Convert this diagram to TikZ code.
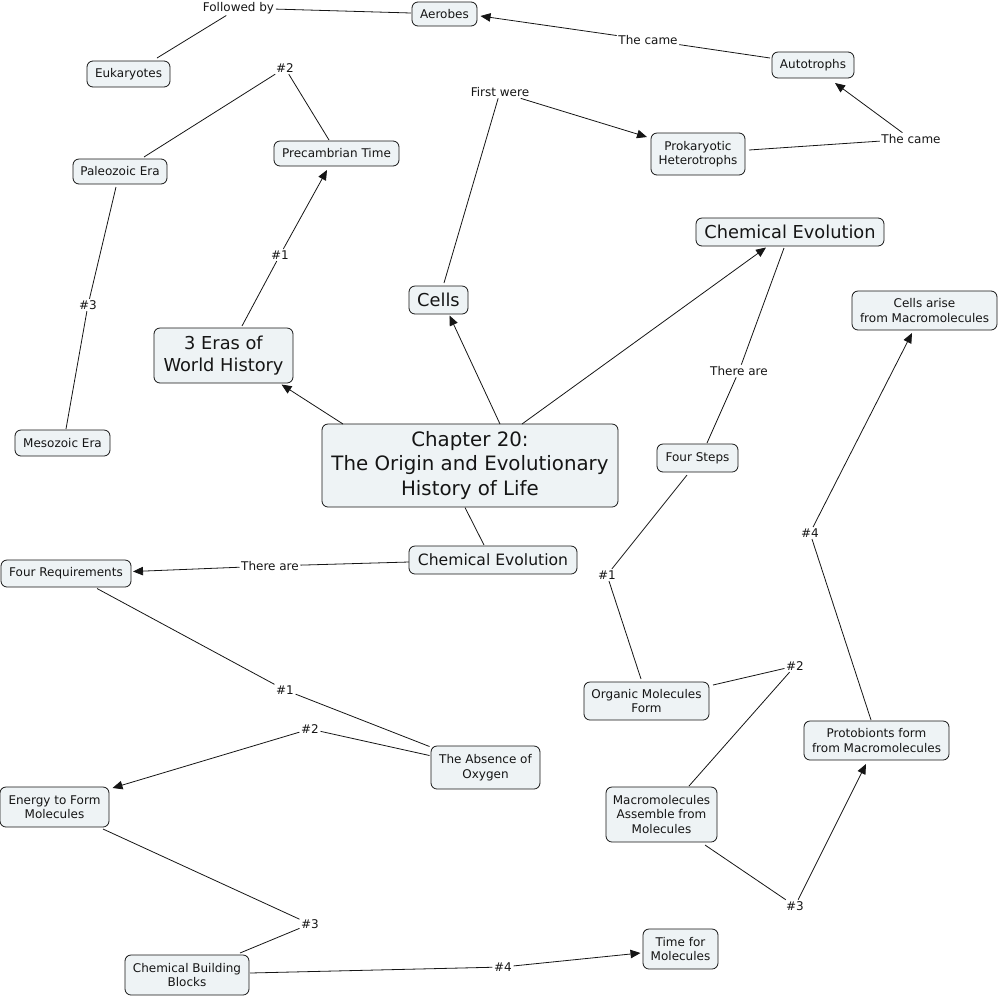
\documentclass[tikz,border=0pt]{standalone}
\usepackage{fontspec}
\setmainfont{DejaVu Sans}
\usetikzlibrary{arrows.meta}
\definecolor{boxfill}{HTML}{EEF3F5}
\definecolor{ink}{HTML}{151515}
\newcommand\fsm{\fontsize{12}{14.5}\selectfont}
\newcommand\fmid{\fontsize{15.6}{19}\selectfont}
\newcommand\flg{\fontsize{17.8}{22}\selectfont}
\newcommand\fxl{\fontsize{19.8}{24.5}\selectfont}
\begin{document}
\begin{tikzpicture}[x=1pt,y=-1pt,
  cn/.style={draw=ink, fill=boxfill, rounded corners=6pt, line width=0.8pt,
    inner sep=0pt, align=center, text=ink, font=\fsm},
  lbl/.style={inner sep=1.5pt, text=ink, font=\fsm},
  con/.style={draw=ink, line width=0.8pt},
  arr/.style={con, -{Triangle[length=10pt,width=8.5pt]}}]
\useasboundingbox (0,0) rectangle (999,997);
% concept nodes
\node[cn, minimum width=65, minimum height=24] (aer) at (444.5,14) {Aerobes};
\node[cn, minimum width=83, minimum height=26] (euk) at (128.5,74) {Eukaryotes};
\node[cn, minimum width=94, minimum height=25] (pal) at (120,171.5) {Paleozoic Era};
\node[cn, minimum width=125, minimum height=25] (pre) at (336.5,153.5) {Precambrian Time};
\node[cn, minimum width=82, minimum height=26] (aut) at (813,65) {Autotrophs};
\node[cn, minimum width=94, minimum height=42] (pro) at (698,154) {Prokaryotic\\Heterotrophs};
\node[cn, minimum width=188, minimum height=28, font=\flg] (ceT) at (790,232) {Chemical Evolution};
\node[cn, minimum width=145, minimum height=39] (car) at (924.5,310.5) {Cells arise\\from Macromolecules};
\node[cn, minimum width=139, minimum height=55, font=\flg] (era) at (223.5,355.5) {3 Eras of\\World History};
\node[cn, minimum width=59, minimum height=28, font=\flg] (cel) at (438.5,300) {Cells};
\node[cn, minimum width=95, minimum height=26] (mes) at (62.5,443) {Mesozoic Era};
\node[cn, minimum width=296, minimum height=83, font=\fxl] (chp) at (470,465.5) {Chapter 20:\\The Origin and Evolutionary\\History of Life};
\node[cn, minimum width=81, minimum height=28] (fst) at (697.5,458) {Four Steps};
\node[cn, minimum width=168, minimum height=28, font=\fmid] (ceB) at (493,560) {Chemical Evolution};
\node[cn, minimum width=130, minimum height=27] (frq) at (66,573.5) {Four Requirements};
\node[cn, minimum width=125, minimum height=38] (org) at (646.5,701) {Organic Molecules\\Form};
\node[cn, minimum width=145, minimum height=39] (prt) at (876.5,740.5) {Protobionts form\\from Macromolecules};
\node[cn, minimum width=109, minimum height=43] (abs) at (485.5,767.5) {The Absence of\\Oxygen};
\node[cn, minimum width=109, minimum height=40] (ene) at (54.5,807) {Energy to Form\\Molecules};
\node[cn, minimum width=111, minimum height=55] (mac) at (661.5,814.5) {Macromolecules\\Assemble from\\Molecules};
\node[cn, minimum width=124, minimum height=40] (cbb) at (187,975) {Chemical Building\\Blocks};
\node[cn, minimum width=75, minimum height=40] (tim) at (680.5,949) {Time for\\Molecules};
% linking phrases
\node[lbl] (lfol) at (238.5,8) {Followed by};
\node[lbl] (lcame1) at (648,40) {The came};
\node[lbl] (lcame2) at (911,139) {The came};
\node[lbl] (lfirst) at (500,92) {First were};
\node[lbl] (le2) at (285,68) {\#2};
\node[lbl] (le1) at (280,255) {\#1};
\node[lbl] (le3) at (88,305) {\#3};
\node[lbl] (lthere1) at (739,371) {There are};
\node[lbl] (ls1) at (607,575) {\#1};
\node[lbl] (ls4) at (810,533) {\#4};
\node[lbl] (ls2) at (795,666) {\#2};
\node[lbl] (ls3) at (795,906) {\#3};
\node[lbl] (lthere2) at (270,566) {There are};
\node[lbl] (lr1) at (285,690) {\#1};
\node[lbl] (lr2) at (310,729) {\#2};
\node[lbl] (lr3) at (310,924) {\#3};
\node[lbl] (lr4) at (503,967) {\#4};
% connectors from the central node
\draw[arr] ([shift={(-127,-41.5)}]chp.center) -- ([shift={(58,29)}]era.center);
\draw[arr] ([shift={(30,-41.5)}]chp.center) -- ([shift={(11,15.5)}]cel.center);
\draw[arr] ([shift={(52,-41.5)}]chp.center) -- ([shift={(-24,15.5)}]ceT.center);
\draw[con] ([shift={(-5,42)}]chp.center) -- ([shift={(-9,-15)}]ceB.center);
% four requirements branch
\draw[con] ([shift={(-84,2)}]ceB.center) -- (lthere2);
\draw[arr] (lthere2) -- ([shift={(67,-2)}]frq.center);
\draw[con] ([shift={(31,15)}]frq.center) -- (lr1);
\draw[con] (lr1) -- ([shift={(-56,-21)}]abs.center);
\draw[con] ([shift={(-56,-12)}]abs.center) -- (lr2);
\draw[arr] (lr2) -- ([shift={(58,-19)}]ene.center);
\draw[con] ([shift={(48.5,22)}]ene.center) -- (lr3);
\draw[con] (lr3) -- ([shift={(53,-22)}]cbb.center);
\draw[con] ([shift={(63,-2)}]cbb.center) -- (lr4);
\draw[arr] (lr4) -- ([shift={(-40,4)}]tim.center);
% four steps branch
\draw[con] ([shift={(-6,16)}]ceT.center) -- (lthere1);
\draw[con] (lthere1) -- ([shift={(9.5,-15)}]fst.center);
\draw[con] ([shift={(-10.5,17)}]fst.center) -- (ls1);
\draw[con] (ls1) -- ([shift={(-5.5,-22)}]org.center);
\draw[con] ([shift={(66.5,-16)}]org.center) -- (ls2);
\draw[con] (ls2) -- ([shift={(27.5,-28.5)}]mac.center);
\draw[con] ([shift={(43.5,30.5)}]mac.center) -- (ls3);
\draw[arr] (ls3) -- ([shift={(-10.5,23.5)}]prt.center);
\draw[con] ([shift={(-5.5,-20.5)}]prt.center) -- (ls4);
\draw[arr] (ls4) -- ([shift={(-12.5,22.5)}]car.center);
% eras branch
\draw[con] ([shift={(18.5,-29.5)}]era.center) -- (le1);
\draw[arr] (le1) -- ([shift={(-9.5,16.5)}]pre.center);
\draw[con] ([shift={(-7.5,-13.5)}]pre.center) -- (le2);
\draw[con] (le2) -- ([shift={(24,-14.5)}]pal.center);
\draw[con] ([shift={(-4,15.5)}]pal.center) -- (le3);
\draw[con] (le3) -- ([shift={(3.5,-14)}]mes.center);
% cells branch
\draw[con] ([shift={(5.5,-17)}]cel.center) -- (lfirst);
\draw[arr] (lfirst) -- ([shift={(-51,-17)}]pro.center);
\draw[con] ([shift={(51,-4)}]pro.center) -- (lcame2);
\draw[arr] (lcame2) -- ([shift={(22,18)}]aut.center);
\draw[con] ([shift={(-43,-7)}]aut.center) -- (lcame1);
\draw[arr] (lcame1) -- ([shift={(36,2)}]aer.center);
\draw[con] ([shift={(-33.5,-1)}]aer.center) -- (lfol);
\draw[con] (lfol) -- ([shift={(28.5,-16)}]euk.center);
\end{tikzpicture}
\end{document}
